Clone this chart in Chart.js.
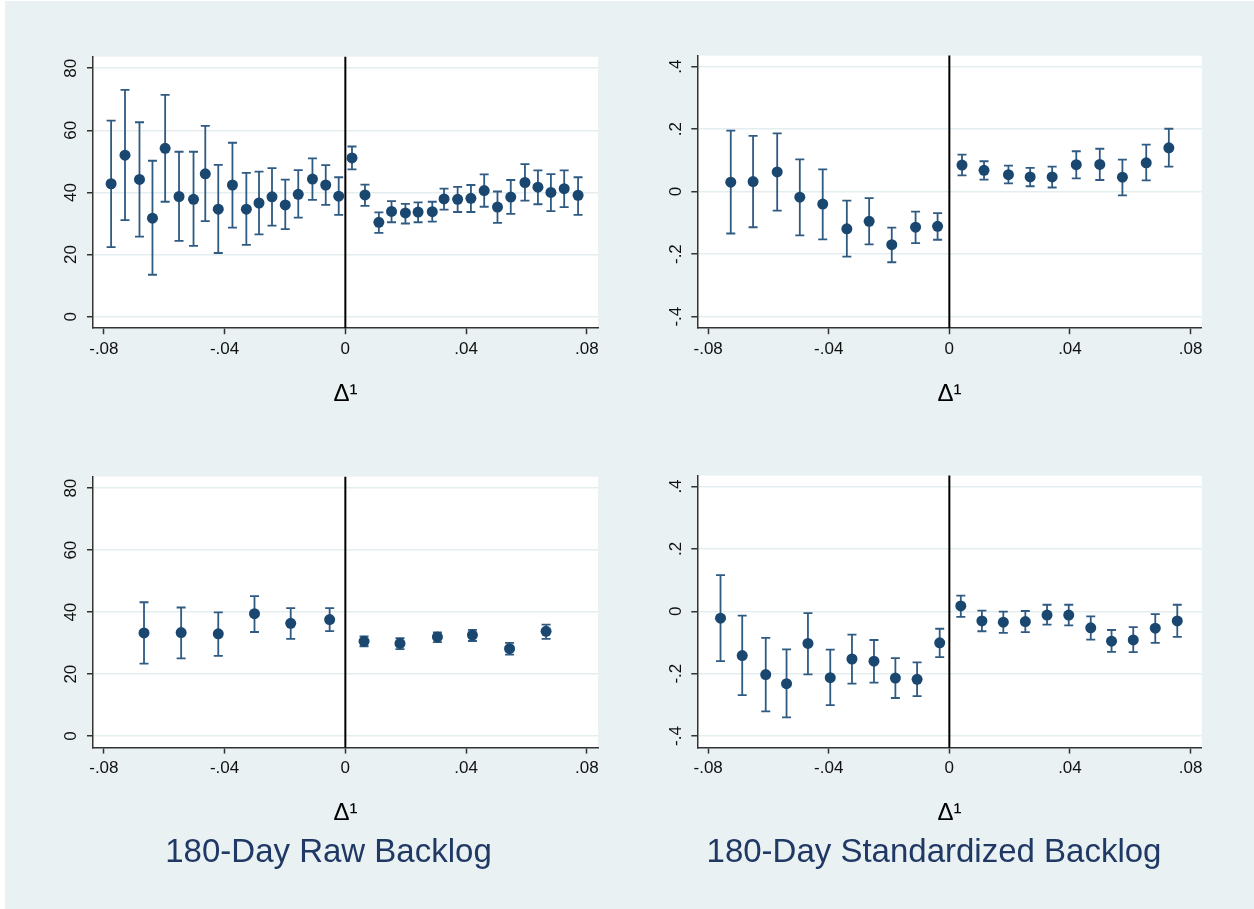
<!DOCTYPE html>
<html>
<head>
<meta charset="utf-8">
<script src="https://cdn.jsdelivr.net/npm/chart.js@4.4.1/dist/chart.umd.min.js"></script>
<style>
  html, body { margin: 0; padding: 0; background: #fff; }
  body { width: 1254px; height: 909px; position: relative; overflow: hidden; }
  #bg { position: absolute; left: 5px; top: 1px; right: 0; bottom: 0; background: #e9f1f3; }
  canvas { position: absolute; }
</style>
</head>
<body>
<div id="bg"></div>
<canvas id="rawFine" width="551" height="380" style="left:59px;top:40px"></canvas>
<canvas id="stdFine" width="564" height="380" style="left:650px;top:40px"></canvas>
<canvas id="rawCoarse" width="551" height="449" style="left:59px;top:460px"></canvas>
<canvas id="stdCoarse" width="564" height="449" style="left:650px;top:460px"></canvas>
<script>
// axes
const xTicks = [-0.08, -0.04, 0, 0.04, 0.08];
const xTickLabels = ['-.08', '-.04', '0', '.04', '.08'];
const rawTicks = [0, 20, 40, 60, 80];
const rawTickLabels = ['0', '20', '40', '60', '80'];
const stdTicks = [-0.4, -0.2, 0, 0.2, 0.4];
const stdTickLabels = ['-.4', '-.2', '0', '.2', '.4'];

// top left: 180-day raw backlog, narrow bins
const rawFineX = [-0.0776, -0.0730, -0.0682, -0.0639, -0.0597, -0.0551, -0.0503, -0.0464, -0.0421,
  -0.0374, -0.0328, -0.0286, -0.0243, -0.0199, -0.0156, -0.0109, -0.0065, -0.0022,
  0.0022, 0.0065, 0.0111, 0.0153, 0.0199, 0.0241, 0.0288, 0.0327, 0.0372,
  0.0416, 0.0460, 0.0504, 0.0548, 0.0595, 0.0638, 0.0681, 0.0725, 0.0771];
const rawFineMean = [42.8, 52.0, 44.2, 31.7, 54.2, 38.7, 37.8, 46.0, 34.6,
  42.4, 34.6, 36.6, 38.6, 36.0, 39.4, 44.3, 42.4, 38.8,
  51.1, 39.2, 30.4, 33.9, 33.4, 33.7, 33.8, 37.9, 37.8,
  38.1, 40.6, 35.3, 38.5, 43.2, 41.7, 40.0, 41.2, 39.1];
const rawFineLow = [22.4, 31.1, 25.8, 13.5, 37.0, 24.4, 22.8, 30.8, 20.5,
  28.7, 23.1, 26.5, 29.3, 28.2, 31.9, 37.6, 36.0, 32.8,
  47.4, 35.7, 27.0, 30.4, 30.0, 30.4, 30.6, 34.5, 33.7,
  33.7, 35.4, 30.2, 33.1, 37.4, 36.2, 34.0, 35.3, 32.8];
const rawFineHigh = [63.1, 73.0, 62.6, 50.2, 71.4, 53.1, 53.1, 61.4, 48.9,
  56.0, 46.3, 46.7, 47.8, 44.1, 47.2, 51.0, 48.8, 44.9,
  54.8, 42.5, 33.6, 37.2, 36.3, 36.8, 37.0, 41.2, 41.8,
  42.4, 45.8, 40.3, 44.0, 49.1, 47.1, 45.9, 47.1, 44.9];

// top right: 180-day standardized backlog
const stdFineX = [-0.0725, -0.0651, -0.0571, -0.0496, -0.0420, -0.0340, -0.0266, -0.0191, -0.0112, -0.0039,
  0.0042, 0.0115, 0.0196, 0.0268, 0.0341, 0.0421, 0.0499, 0.0574, 0.0653, 0.0728];
const stdFineMean = [0.030, 0.032, 0.063, -0.018, -0.040, -0.119, -0.095, -0.170, -0.114, -0.111,
  0.085, 0.068, 0.054, 0.047, 0.047, 0.086, 0.087, 0.046, 0.092, 0.140];
const stdFineLow = [-0.134, -0.114, -0.061, -0.140, -0.153, -0.208, -0.169, -0.226, -0.165, -0.154,
  0.052, 0.038, 0.026, 0.017, 0.013, 0.042, 0.037, -0.012, 0.036, 0.080];
const stdFineHigh = [0.195, 0.178, 0.186, 0.103, 0.071, -0.029, -0.021, -0.115, -0.064, -0.069,
  0.118, 0.097, 0.083, 0.076, 0.080, 0.129, 0.137, 0.102, 0.150, 0.201];

// bottom left: raw backlog, wide bins
const rawCoarseX = [-0.0667, -0.0544, -0.0421, -0.0301, -0.0181, -0.0052,
  0.0062, 0.0181, 0.0305, 0.0421, 0.0544, 0.0665];
const rawCoarseMean = [33.3, 33.4, 33.0, 39.5, 36.4, 37.6, 30.6, 29.9, 32.0, 32.6, 28.2, 33.8];
const rawCoarseLow = [23.4, 25.1, 25.9, 33.6, 31.4, 33.9, 29.0, 28.1, 30.3, 30.7, 26.3, 31.4];
const rawCoarseHigh = [43.2, 41.5, 39.9, 45.2, 41.3, 41.3, 32.2, 31.6, 33.5, 34.3, 30.1, 36.0];

// bottom right: standardized backlog
const stdCoarseX = [-0.0759, -0.0687, -0.0609, -0.0540, -0.0469, -0.0395, -0.0323, -0.0250, -0.0179, -0.0107, -0.0032,
  0.0038, 0.0108, 0.0179, 0.0252, 0.0324, 0.0396, 0.0469, 0.0538, 0.0610, 0.0683, 0.0756];
const stdCoarseMean = [-0.022, -0.142, -0.203, -0.232, -0.103, -0.213, -0.153, -0.160, -0.214, -0.218, -0.101,
  0.017, -0.031, -0.035, -0.033, -0.012, -0.012, -0.053, -0.096, -0.092, -0.054, -0.031];
const stdCoarseLow = [-0.160, -0.269, -0.321, -0.340, -0.202, -0.301, -0.232, -0.229, -0.278, -0.272, -0.147,
  -0.018, -0.064, -0.069, -0.067, -0.043, -0.045, -0.091, -0.130, -0.131, -0.101, -0.082];
const stdCoarseHigh = [0.116, -0.014, -0.085, -0.122, -0.006, -0.123, -0.075, -0.092, -0.150, -0.164, -0.056,
  0.050, 0.002, -0.001, 0.001, 0.021, 0.021, -0.016, -0.060, -0.051, -0.009, 0.021];

const NAVY = '#1a476f';
const CAP_COLOR = '#2f5a82';
const AXIS = '#333333';
const GRID = '#e4edf0';
const TITLE_COLOR = '#1f3864';

Chart.defaults.font.family = '"Liberation Sans", Arial, sans-serif';

// white plot region, x = 0 reference line and confidence caps
const plotExtras = {
  id: 'plotExtras',
  beforeDraw(chart) {
    const { ctx, chartArea: a } = chart;
    ctx.save();
    ctx.fillStyle = '#fff';
    ctx.fillRect(a.left, a.top, a.right - a.left, a.bottom - a.top);
    ctx.restore();
  },
  beforeDatasetsDraw(chart) {
    const { ctx, chartArea: a, scales: { x, y } } = chart;
    ctx.save();
    const zx = x.getPixelForValue(0);
    ctx.strokeStyle = '#000';
    ctx.lineWidth = 2;
    ctx.beginPath();
    ctx.moveTo(zx, a.top);
    ctx.lineTo(zx, a.bottom);
    ctx.stroke();

    ctx.strokeStyle = CAP_COLOR;
    ctx.lineWidth = 1.8;
    chart.data.datasets.forEach(ds => {
      if (!ds.low) return;
      ds.data.forEach((p, i) => {
        const px = x.getPixelForValue(p.x);
        const top = y.getPixelForValue(ds.high[i]);
        const bot = y.getPixelForValue(ds.low[i]);
        ctx.beginPath();
        ctx.moveTo(px, top);
        ctx.lineTo(px, bot);
        ctx.moveTo(px - 4.5, top);
        ctx.lineTo(px + 4.5, top);
        ctx.moveTo(px - 4.5, bot);
        ctx.lineTo(px + 4.5, bot);
        ctx.stroke();
      });
    });
    ctx.restore();
  }
};

function makePanel(id, p) {
  const points = p.xs.map((x, i) => ({ x, y: p.mean[i] }));
  new Chart(document.getElementById(id).getContext('2d'), {
    type: 'scatter',
    data: {
      datasets: [{
        data: points,
        low: p.low,
        high: p.high,
        backgroundColor: NAVY,
        borderColor: NAVY,
        borderWidth: 0,
        pointRadius: 5.5,
        pointHoverRadius: 5.5
      }]
    },
    options: {
      responsive: false,
      animation: false,
      devicePixelRatio: 1,
      events: [],
      layout: { padding: { left: p.padLeft, right: p.padRight, top: p.padTop, bottom: 0 } },
      scales: {
        x: {
          type: 'linear',
          min: -0.0836,
          max: 0.0837,
          afterBuildTicks: s => { s.ticks = xTicks.map(v => ({ value: v })); },
          afterFit: s => { s.height = p.xAxisHeight; },
          grid: { drawOnChartArea: false, tickLength: 6, tickColor: AXIS, tickWidth: 1.5 },
          border: { color: AXIS, width: 1.5 },
          ticks: {
            callback: (v, i) => xTickLabels[i],
            font: { size: 17 },
            color: '#111',
            padding: p.xTickPad,
            autoSkip: false,
            maxRotation: 0
          },
          title: {
            display: true,
            text: 'Δ¹',
            font: { size: 24 },
            color: '#000',
            padding: { top: 0, bottom: p.xTitlePad }
          }
        },
        y: {
          min: p.yMin,
          max: p.yMax,
          afterBuildTicks: s => { s.ticks = p.yTicks.map(v => ({ value: v })); },
          afterFit: s => { s.width = p.yAxisWidth; },
          grid: { color: GRID, lineWidth: 1.5, tickLength: 6, tickColor: AXIS, tickWidth: 1.5 },
          border: { color: AXIS, width: 1.5 },
          ticks: {
            callback: (v, i) => p.yLabels[i],
            font: { size: 17 },
            color: '#111',
            padding: p.yTickPad,
            minRotation: 90,
            maxRotation: 90,
            crossAlign: 'center'
          }
        }
      },
      plugins: {
        legend: { display: false },
        tooltip: { enabled: false },
        title: p.title ? {
          display: true,
          position: 'bottom',
          text: p.title,
          color: TITLE_COLOR,
          font: { size: 33, weight: 'normal' },
          padding: { top: 0, bottom: 36.2 }
        } : { display: false }
      }
    },
    plugins: [plotExtras]
  });
}

const rawAxis = { yTicks: rawTicks, yLabels: rawTickLabels, yMin: -3.7, yMax: 83.7,
  padLeft: 0, padRight: 12, yAxisWidth: 34, yTickPad: 6.5 };
const stdAxis = { yTicks: stdTicks, yLabels: stdTickLabels, yMin: -0.437, yMax: 0.435,
  padLeft: 16.3, padRight: 12.3, yAxisWidth: 31, yTickPad: 5.4 };
const topRow = { padTop: 14, xAxisHeight: 91.8, xTickPad: 4.6, xTitlePad: 11.6 };
const bottomRow = { padTop: 13.4, xAxisHeight: 85.6, xTickPad: 4.2, xTitlePad: 5.8 };

makePanel('rawFine', { ...rawAxis, ...topRow,
  xs: rawFineX, mean: rawFineMean, low: rawFineLow, high: rawFineHigh });
makePanel('stdFine', { ...stdAxis, ...topRow,
  xs: stdFineX, mean: stdFineMean, low: stdFineLow, high: stdFineHigh });
makePanel('rawCoarse', { ...rawAxis, ...bottomRow, title: '180-Day Raw Backlog',
  xs: rawCoarseX, mean: rawCoarseMean, low: rawCoarseLow, high: rawCoarseHigh });
makePanel('stdCoarse', { ...stdAxis, ...bottomRow, title: '180-Day Standardized Backlog',
  xs: stdCoarseX, mean: stdCoarseMean, low: stdCoarseLow, high: stdCoarseHigh });
</script>
</body>
</html>
